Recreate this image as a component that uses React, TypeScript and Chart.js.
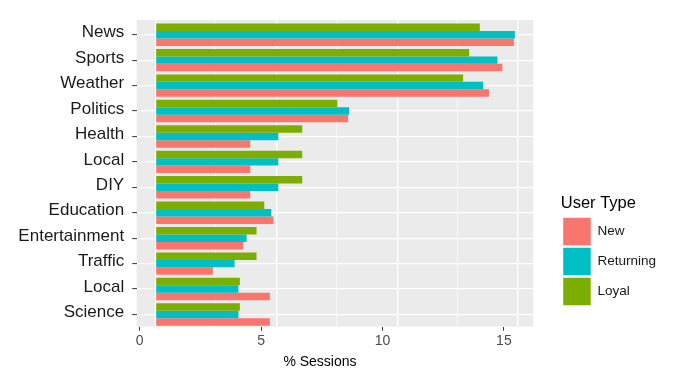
import React, { useEffect, useRef } from 'react';
import { Chart, registerables } from 'chart.js';

Chart.register(...registerables);

// ---- data ----
const categories = [
  'News', 'Sports', 'Weather', 'Politics', 'Health', 'Local',
  'DIY', 'Education', 'Entertainment', 'Traffic', 'Local', 'Science',
];
const newValues = [14.83, 14.35, 13.8, 7.97, 3.92, 3.92, 3.92, 4.88, 3.63, 2.37, 4.73, 4.73];
const returningValues = [14.87, 14.15, 13.56, 8.01, 5.08, 5.08, 5.08, 4.79, 3.77, 3.27, 3.43, 3.43];
const loyalValues = [13.42, 12.98, 12.73, 7.52, 6.07, 6.07, 6.07, 4.5, 4.18, 4.18, 3.49, 3.49];
const seriesNames = ['New', 'Returning', 'Loyal'];
const xTickValues = [0, 5, 10, 15];
const xGridValues = [0, 2.5, 5, 7.5, 10, 12.5, 15];
const xTitle = '% Sessions';
const legendTitle = 'User Type';

const COLORS = { New: '#F8766D', Returning: '#00BFC4', Loyal: '#7CAE00' };
const FONT = "'Liberation Sans', Arial, Helvetica, sans-serif";

const panelBackground = {
  id: 'panelBackground',
  beforeDraw(chart: any) {
    const { ctx, chartArea: a } = chart;
    ctx.save();
    ctx.fillStyle = '#EBEBEB';
    ctx.fillRect(a.left, a.top, a.right - a.left, a.bottom - a.top);
    ctx.restore();
  },
};

// the tick labels / title of the x axis sit a little left of the panel
const shiftAxis = {
  id: 'shiftAxis',
  afterLayout(chart: any) {
    const s = chart.scales.xLabels;
    if (!s) return;
    s.left -= 15;
    s.right -= 15;
    s.configure();
  },
};

export default function App() {
  const ref = useRef<HTMLCanvasElement | null>(null);

  useEffect(() => {
    if (!ref.current) return;
    Chart.defaults.font.family = FONT;
    const toPoints = (vals: number[]) => vals.map((v, i) => ({ x: v, y: i }));
    const chart = new Chart(ref.current, {
      type: 'bar',
      data: {
        datasets: [
          { label: seriesNames[2], data: toPoints(loyalValues), backgroundColor: COLORS.Loyal, borderWidth: 0 },
          { label: seriesNames[1], data: toPoints(returningValues), backgroundColor: COLORS.Returning, borderWidth: 0 },
          { label: seriesNames[0], data: toPoints(newValues), backgroundColor: COLORS.New, borderWidth: 0 },
        ] as any,
      },
      options: {
        indexAxis: 'y',
        animation: false,
        responsive: false,
        devicePixelRatio: 1,
        events: [],
        layout: { padding: { top: 20, left: 0, right: 28, bottom: 0 } },
        datasets: { bar: { barPercentage: 1, categoryPercentage: 0.88 } } as any,
        scales: {
          y: {
            type: 'linear',
            reverse: true,
            offset: false,
            min: -0.578,
            max: 11.48,
            afterBuildTicks: (s: any) => { s.ticks = categories.map((_, i) => ({ value: i })); },
            afterFit: (s: any) => { s.width = 136.7; },
            ticks: {
              autoSkip: false,
              callback: (v: any) => categories[v as number],
              font: { size: 17, family: FONT },
              color: '#1a1a1a',
              padding: 8,
              labelOffset: -2,
            },
            grid: { offset: false, color: '#FFFFFF', lineWidth: 1.2, drawTicks: true, tickLength: 4.5, tickColor: '#333333', tickWidth: 1 },
            border: { display: false },
          },
          x: {
            type: 'linear',
            position: 'bottom',
            offset: false,
            beginAtZero: false,
            min: -0.78,
            max: 15.63,
            afterBuildTicks: (s: any) => { s.ticks = xGridValues.map((v) => ({ value: v })); },
            afterFit: (s: any) => { s.height = 0; },
            ticks: { display: false, autoSkip: false },
            grid: {
              offset: false,
              color: '#FFFFFF',
              lineWidth: (c: any) => (c.tick && c.tick.value % 5 === 0 ? 1.3 : 0.6),
              drawTicks: false,
            },
            border: { display: false },
          },
          xLabels: {
            type: 'linear',
            position: 'bottom',
            offset: false,
            min: -0.742,
            max: 15.59,
            afterBuildTicks: (s: any) => { s.ticks = xTickValues.map((v) => ({ value: v })); },
            afterFit: (s: any) => { s.height = 59.3; },
            ticks: {
              autoSkip: false,
              maxRotation: 0,
              font: { size: 14, family: FONT },
              color: '#4D4D4D',
              padding: 2.5,
            },
            grid: { display: true, offset: false, drawOnChartArea: false, drawTicks: true, tickLength: 4, tickColor: '#333333', tickWidth: 1 },
            border: { display: false },
            title: {
              display: true,
              text: xTitle,
              font: { size: 14, family: FONT },
              color: '#000000',
              padding: { top: 4, bottom: 15 },
            },
          },
          legendGap: {
            type: 'linear',
            position: 'right',
            display: true,
            afterFit: (s: any) => { s.width = 27.5; },
            ticks: { display: false },
            grid: { display: false, drawTicks: false },
            border: { display: false },
          },
        } as any,
        plugins: {
          tooltip: { enabled: false },
          legend: {
            position: 'right',
            align: 'start',
            reverse: true,
            labels: {
              boxWidth: 27.5,
              boxHeight: 27.5,
              padding: 2.5,
              color: '#1a1a1a',
              font: { size: 13.5, family: FONT },
            },
            title: {
              display: true,
              text: legendTitle,
              color: '#000000',
              font: { size: 16.5, family: FONT },
              padding: { top: 174.75, bottom: 0.65 },
              position: 'start',
            } as any,
          },
        },
      },
      plugins: [panelBackground, shiftAxis],
    });
    return () => chart.destroy();
  }, []);

  return (
    <div style={{ position: 'fixed', left: 0, top: 0, width: 694, height: 386, background: '#FFFFFF' }}>
      <canvas ref={ref} width={694} height={386} style={{ width: 694, height: 386, display: 'block' }} />
    </div>
  );
}
